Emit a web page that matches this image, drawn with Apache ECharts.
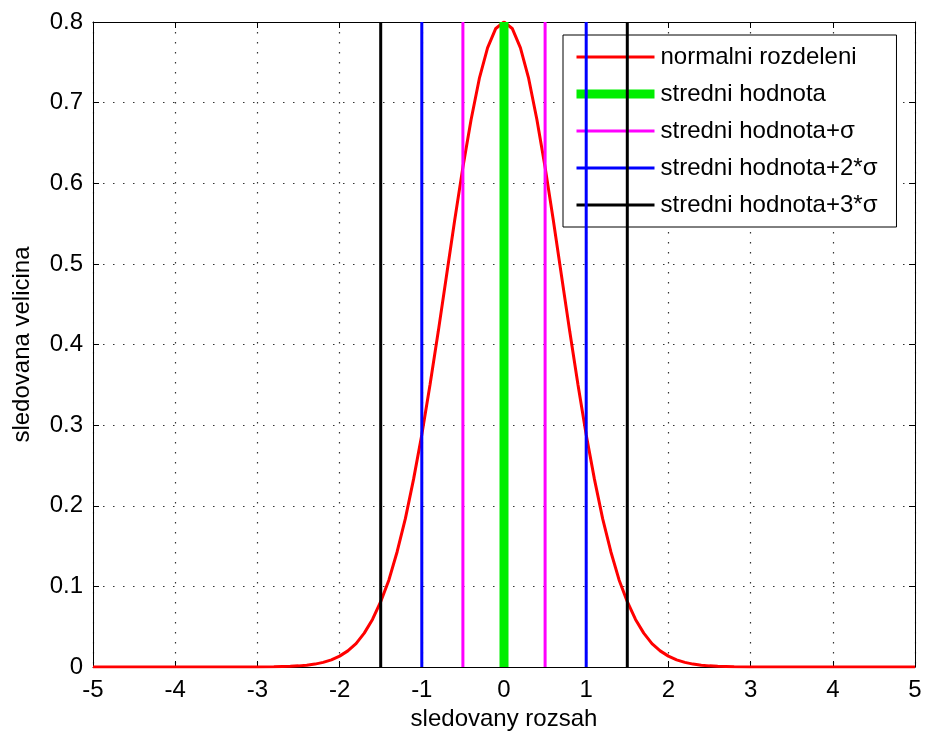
<!DOCTYPE html>
<html>
<head>
<meta charset="utf-8">
<script src="https://cdn.jsdelivr.net/npm/echarts@6/dist/echarts.min.js"></script>
<style>html,body{margin:0;padding:0;background:#fff}#c{width:925px;height:737px}</style>
</head>
<body>
<div id="c"></div>
<script>
const curveX = [-5,-4,-3,-2.8,-2.6,-2.5,-2.4,-2.3,-2.2,-2.1,-2.0,-1.9,-1.8,-1.7,-1.6,-1.5,-1.4,-1.3,-1.2,-1.1,-1.0,-0.9,-0.8,-0.7,-0.6,-0.5,-0.4,-0.3,-0.2,-0.1,0,
  0.1,0.2,0.3,0.4,0.5,0.6,0.7,0.8,0.9,1.0,1.1,1.2,1.3,1.4,1.5,1.6,1.7,1.8,1.9,2.0,2.1,2.2,2.3,2.4,2.5,2.6,2.8,3,4,5];
const curveY = [0,0,0.0001,0.0003,0.0008,0.0014,0.0022,0.0036,0.0057,0.0089,0.0135,0.020,0.029,0.042,0.059,0.081,0.108,0.143,0.184,0.233,0.288,0.350,0.416,0.485,0.554,0.620,0.679,0.730,0.768,0.792,0.800,
  0.792,0.768,0.730,0.679,0.620,0.554,0.485,0.416,0.350,0.288,0.233,0.184,0.143,0.108,0.081,0.059,0.042,0.029,0.020,0.0135,0.0089,0.0057,0.0036,0.0022,0.0014,0.0008,0.0003,0.0001,0,0];
const meanX = [0];
const sigma1X = [-0.5, 0.5];
const sigma2X = [-1, 1];
const sigma3X = [-1.5, 1.5];
const lineBottom = 0;
const lineTop = 0.8;
const names = ['normalni rozdeleni','stredni hodnota','stredni hodnota+\u03c3','stredni hodnota+2*\u03c3','stredni hodnota+3*\u03c3'];
const colors = ['#ff0000','#00ee00','#ff00ff','#0000ff','#000000'];
const widths = [3, 9, 3, 3, 3];
const xTicks = {min:-5, max:5, interval:1};
const yTicks = {min:0, max:0.8, interval:0.1};

const FONT = 'Liberation Sans, Arial, sans-serif';
const series = [];
series.push({
  name: names[0], type: 'line', xAxisIndex:0, yAxisIndex:0,
  data: curveX.map((x,i)=>[x, curveY[i]]),
  showSymbol:false, symbol:'none', lineStyle:{color:colors[0], width:widths[0]}, itemStyle:{color:colors[0]}, z:3
});
function vlines(k, xs){
  xs.forEach(x=>{
    series.push({
      name:names[k], type:'line', xAxisIndex:0, yAxisIndex:0,
      data:[[x,lineBottom],[x,lineTop]],
      showSymbol:false, symbol:'none', lineStyle:{color:colors[k], width:widths[k]}, itemStyle:{color:colors[k]}, z:4
    });
  });
}
vlines(1, meanX);
vlines(2, sigma1X);
vlines(3, sigma2X);
vlines(4, sigma3X);

const tickStyle = {inside:true, length:6, lineStyle:{color:'#000', width:1}};
const gridLine = {show:true, lineStyle:{color:'#333', width:1.2, type:[1.5,8.5]}};
const chart = echarts.init(document.getElementById('c'), null, {renderer:'canvas'});
chart.setOption({
  animation:false,
  backgroundColor:'#fff',
  grid:{left:93, right:10, top:22, bottom:70, containLabel:false},
  legend:{
    data:names.map((n,i)=>({name:n, lineStyle:{color:colors[i], width:widths[i]},
      itemStyle:{color:'rgba(0,0,0,0)', borderWidth:0, opacity:0}})),
    orient:'vertical', left:563, top:35,
    backgroundColor:'#fff', borderColor:'#000', borderWidth:1,
    padding:[10,19,10,9], itemWidth:78, itemHeight:24, itemGap:13,
    textStyle:{fontFamily:FONT, fontSize:24, color:'#000', padding:[0,0,0,1]},
    selectedMode:false
  },
  xAxis:[{
    type:'value', position:'bottom', min:xTicks.min, max:xTicks.max, interval:xTicks.interval,
    name:'sledovany rozsah', nameLocation:'middle', nameGap:39,
    nameTextStyle:{fontFamily:FONT, fontSize:24, color:'#000'},
    axisLine:{show:true, onZero:false, lineStyle:{color:'#000', width:1}},
    axisTick:tickStyle,
    axisLabel:{fontFamily:FONT, fontSize:24, color:'#000', margin:11},
    splitLine:gridLine
  },{
    type:'value', position:'top', min:xTicks.min, max:xTicks.max, interval:xTicks.interval,
    axisLine:{show:true, onZero:false, lineStyle:{color:'#000', width:1}},
    axisTick:tickStyle, axisLabel:{show:false}, splitLine:{show:false}
  }],
  yAxis:[{
    type:'value', position:'left', min:yTicks.min, max:yTicks.max, interval:yTicks.interval,
    name:'sledovana velicina', nameLocation:'middle', nameGap:59,
    nameTextStyle:{fontFamily:FONT, fontSize:24, color:'#000'},
    axisLine:{show:true, onZero:false, lineStyle:{color:'#000', width:1}},
    axisTick:tickStyle,
    axisLabel:{fontFamily:FONT, fontSize:24, color:'#000', margin:10,
      formatter:v=> v===0 ? '0' : v.toFixed(1)},
    splitLine:gridLine
  },{
    type:'value', position:'right', min:yTicks.min, max:yTicks.max, interval:yTicks.interval,
    axisLine:{show:true, onZero:false, lineStyle:{color:'#000', width:1}},
    axisTick:tickStyle, axisLabel:{show:false}, splitLine:{show:false}
  }],
  series
});
</script>
</body>
</html>
